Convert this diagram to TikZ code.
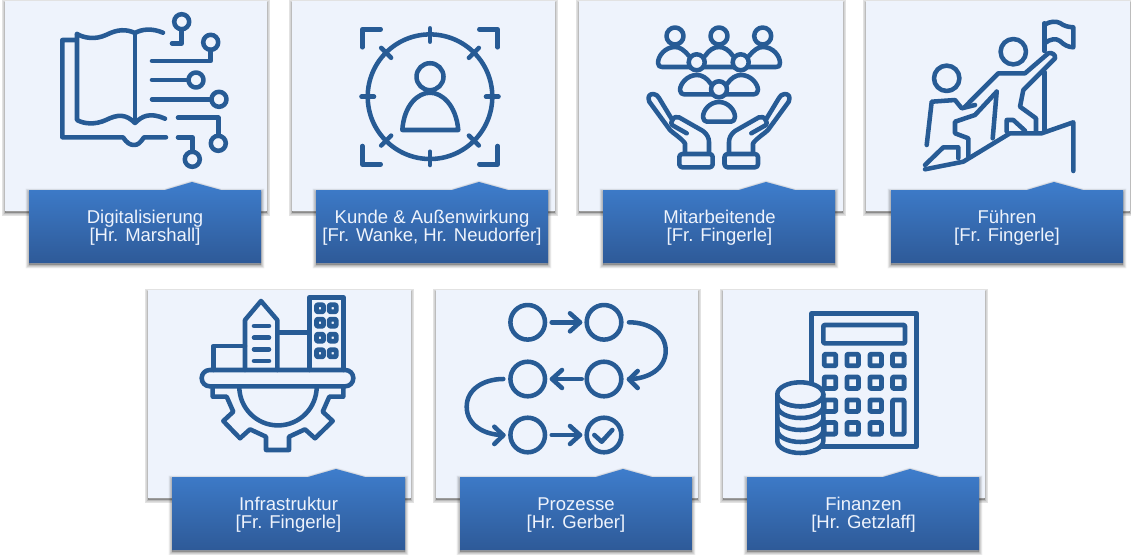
\documentclass[tikz,border=0pt]{standalone}
\usepackage{fontspec}
\setmainfont{Liberation Sans}
\definecolor{cardfill}{RGB}{238,243,252}
\definecolor{iconblue}{RGB}{39,91,149}
\definecolor{bandtop}{RGB}{62,125,204}
\definecolor{bandbottom}{RGB}{46,90,152}
\definecolor{bandink}{RGB}{238,243,252}
\tikzset{every picture/.style={line width=0.75pt}}
\tikzset{softshadow/.style={preaction={draw=black,fill=black,opacity=0.06,line width=1pt,transform canvas={yshift=-1.5pt}},preaction={draw=black,fill=black,opacity=0.06,line width=2pt,transform canvas={yshift=-1.5pt}},preaction={draw=black,fill=black,opacity=0.06,line width=3pt,transform canvas={yshift=-1.5pt}},preaction={draw=black,fill=black,opacity=0.06,line width=4pt,transform canvas={yshift=-1.5pt}},preaction={draw=black,fill=black,opacity=0.06,line width=5pt,transform canvas={yshift=-1.5pt}}}}
\tikzset{cardbox/.style={softshadow,fill=cardfill}}
\tikzset{bandbox/.style={softshadow,top color=bandtop,bottom color=bandbottom}}
\tikzset{bandtext/.style={text=bandink,align=center,inner sep=0.75pt,font=\fontsize{13.9}{13.5}\selectfont}}
\tikzset{iconline/.style={draw=iconblue,line width=3.4pt,line cap=round,line join=round}}
\tikzset{iconfill/.style={iconline,fill=cardfill}}
\tikzset{keyline/.style={iconline,line width=3.6pt,rounded corners=0.75pt}}

\begin{document}
\begin{tikzpicture}[x=0.75pt,y=0.75pt,yscale=-1,xscale=1]
	\useasboundingbox (0,0) rectangle (1131,554);

	% Cards
	\path [cardbox] (5,1) rectangle (267,211);
	\path [cardbox] (292,1) rectangle (555,211);
	\path [cardbox] (579,1) rectangle (843,211);
	\path [cardbox] (866,1) rectangle (1130,211);
	\path [cardbox] (148,290) rectangle (411,498);
	\path [cardbox] (436,290) rectangle (698,498);
	\path [cardbox] (723,290) rectangle (985,498);

	% Bands
	\path [bandbox] (29,190) -- (165,190) -- (192,182) -- (221,190) -- (261,190) -- (261,263) -- (29,263) -- cycle;
	\path [bandbox] (316,190) -- (452,190) -- (479,182) -- (508,190) -- (548,190) -- (548,263) -- (316,263) -- cycle;
	\path [bandbox] (603,190) -- (739,190) -- (766,182) -- (795,190) -- (835,190) -- (835,263) -- (603,263) -- cycle;
	\path [bandbox] (891,190) -- (1027,190) -- (1054,182) -- (1083,190) -- (1123,190) -- (1123,263) -- (891,263) -- cycle;
	\path [bandbox] (172,477) -- (308,477) -- (336,469) -- (365,477) -- (405,477) -- (405,550) -- (172,550) -- cycle;
	\path [bandbox] (460,477) -- (596,477) -- (623,469) -- (652,477) -- (692,477) -- (692,550) -- (460,550) -- cycle;
	\path [bandbox] (747,477) -- (883,477) -- (910,469) -- (939,477) -- (979,477) -- (979,550) -- (747,550) -- cycle;

	% Text Node
	\node (digital) [bandtext] at (145,228) {Digitalisierung\\{[Hr. Marshall]}};
	% Text Node
	\node (kunde) [bandtext] at (432,228) {Kunde \& Außenwirkung\\{[Fr. Wanke, Hr. Neudorfer]}};
	% Text Node
	\node (mitarbeit) [bandtext] at (719.5,228) {Mitarbeitende\\{[Fr. Fingerle]}};
	% Text Node
	\node (fuehren) [bandtext] at (1007,228) {Führen\\{[Fr. Fingerle]}};
	% Text Node
	\node (infra) [bandtext] at (288.5,515) {Infrastruktur\\{[Fr. Fingerle]}};
	% Text Node
	\node (prozess) [bandtext] at (576,515) {Prozesse\\{[Hr. Gerber]}};
	% Text Node
	\node (finanz) [bandtext] at (863.5,515) {Finanzen\\{[Hr. Getzlaff]}};

	% Book
	\draw [iconline] (76,40) -- (62.3,40) -- (62.3,137.3) -- (123,137.3) .. controls (127,143) and (130,145) .. (134,145) .. controls (138,145) and (140,143) .. (144,137.3) -- (166,137.3);
	\draw [iconline] (77,34) -- (77,120) .. controls (84,124) and (95,125) .. (106,120) .. controls (118,114) and (126,114) .. (135,123) .. controls (142,116) and (150,112) .. (165,118.7);
	\draw [iconline] (77,34) .. controls (84,38) and (95,40) .. (106,35) .. controls (118,29) and (126,29) .. (135,33) .. controls (142,29) and (152,28) .. (163,32.7);
	\draw [iconline] (135,33) -- (135,122);
	% Circuit
	\draw [iconline] (181.7,21.7) circle [radius=7.5];
	\draw [iconline] (181.7,29.2) -- (181.7,43.3) -- (172,43.3);
	\draw [iconline] (210.7,42.3) circle [radius=7.5];
	\draw [iconline] (210.7,49.8) -- (210.7,61) -- (152,61);
	\draw [iconline] (196,80) circle [radius=7.5];
	\draw [iconline] (152,80) -- (188.5,80);
	\draw [iconline] (219,99.3) circle [radius=7.5];
	\draw [iconline] (152,99.3) -- (211.5,99.3);
	\draw [iconline] (218.3,143.3) circle [radius=7.5];
	\draw [iconline] (178,117.7) -- (218.3,117.7) -- (218.3,135.8);
	\draw [iconline] (192.3,159.3) circle [radius=7.5];
	\draw [iconline] (178,137.3) -- (192.3,137.3) -- (192.3,151.8);

	% Target ring
	\draw [iconline] (430,96.7) circle [radius=62.3];
	\draw [iconline] (430,28.3) -- (430,41.7);
	\draw [iconline] (430,151.7) -- (430,165);
	\draw [iconline] (361.5,96.7) -- (374,96.7);
	\draw [iconline] (486,96.7) -- (498.5,96.7);
	\draw [iconline] (391.1,57.8) -- (381.2,47.9);
	\draw [iconline] (468.9,57.8) -- (478.8,47.9);
	\draw [iconline] (391.1,135.6) -- (381.2,145.5);
	\draw [iconline] (468.9,135.6) -- (478.8,145.5);
	% Corners
	\draw [iconline] (380.7,29.3) -- (362.3,29.3) -- (362.3,47.3);
	\draw [iconline] (479.3,29.3) -- (497.7,29.3) -- (497.7,47.3);
	\draw [iconline] (362.3,146) -- (362.3,164.3) -- (380.7,164.3);
	\draw [iconline] (497.7,146) -- (497.7,164.3) -- (479.3,164.3);
	% Person
	\draw [iconline] (430,76.7) circle [radius=13.5];
	\draw [iconline] (402.3,130) .. controls (404,105) and (418,92.7) .. (430,92.7) .. controls (442,92.7) and (456,105) .. (458.3,130) -- cycle;

	% Upper row of people
	\draw [iconline] (675,36) circle [radius=8.5];
	\draw [iconline] (719,36) circle [radius=8.5];
	\draw [iconline] (762.7,36) circle [radius=8.5];
	\draw [iconline] (689,56) .. controls (684,50) and (680,47) .. (675,47) .. controls (665,47) and (658,56) .. (658,63) .. controls (658,66) and (660,67) .. (662,67) -- (776,67) .. controls (779,67) and (780,66) .. (780,63) .. controls (780,56) and (773,47) .. (763,47) .. controls (758,47) and (754,50) .. (749,56);
	\draw [iconline] (705,56) .. controls (709,50) and (714,47) .. (719,47) .. controls (724,47) and (729,50) .. (733,56);
	% Middle row of people
	\draw [iconfill] (696.7,62.3) circle [radius=8];
	\draw [iconfill] (740.7,62.3) circle [radius=8];
	\draw [iconline] (711,84) .. controls (707,78) and (702,75) .. (697,75) .. controls (687,75) and (680,84) .. (680,90) .. controls (680,93) and (682,94.3) .. (684,94.3) -- (754,94.3) .. controls (756,94.3) and (758,93) .. (758,90) .. controls (758,84) and (751,75) .. (741,75) .. controls (736,75) and (731,78) .. (727,84);
	% Lower person
	\draw [iconfill] (719,89.3) circle [radius=8];
	\draw [iconline] (719,102) .. controls (710,102) and (703,110) .. (703,117) .. controls (703,120) and (705,121.7) .. (707,121.7) -- (731,121.7) .. controls (733,121.7) and (735,120) .. (735,117) .. controls (735,110) and (728,102) .. (719,102) -- cycle;
	% Hands
	\draw [iconline] (685,153.3) -- (685,143.3) .. controls (680,137) and (674,134) .. (670,130) -- (649.3,101.7) .. controls (647,96) and (650,94) .. (653.3,94) .. controls (656,94) and (658,96) .. (659,98) -- (672.3,120) .. controls (674,117) and (676,116.5) .. (679,117.3) -- (703,131) .. controls (707,134) and (709,138) .. (709,142) -- (709,153.3);
	\draw [iconline] (672.3,120) .. controls (671,122) and (671,124) .. (672,125) -- (686.7,133.3);
	\draw [iconline,rounded corners=2.25pt] (679.3,154) rectangle (712.7,167.3);
	\draw [iconline] (753,153.3) -- (753,143.3) .. controls (758,137) and (764,134) .. (768,130) -- (788.7,101.7) .. controls (791,96) and (788,94) .. (784.7,94) .. controls (782,94) and (780,96) .. (779,98) -- (765.7,120) .. controls (764,117) and (762,116.5) .. (759,117.3) -- (735,131) .. controls (731,134) and (729,138) .. (729,142) -- (729,153.3);
	\draw [iconline] (765.7,120) .. controls (767,122) and (767,124) .. (766,125) -- (751.3,133.3);
	\draw [iconline,rounded corners=2.25pt] (724.5,154) rectangle (758,167.3);

	% Mountain
	\draw [iconline] (925,169.3) -- (963.3,161.7) -- (1010,133.3) -- (1041.7,133.3) -- (1073.3,122.3) -- (1073.3,171);
	% Flag
	\draw [iconline] (1044.3,23.3) -- (1044.3,51);
	\draw [iconline] (1044.3,72) -- (1044.3,131.7);
	\draw [iconline] (1044.3,25) .. controls (1050,21) and (1056,21) .. (1060,23) .. controls (1064,26) and (1068,27) .. (1073.3,27.3) -- (1073.3,47.3) .. controls (1068,47) and (1064,45) .. (1060,41) .. controls (1056,38) and (1050,39) .. (1045,43);
	% Upper climber
	\draw [iconline] (1013.3,51.7) circle [radius=12.7];
	\draw [iconline] (965,106.7) -- (998.3,73.3) -- (1025,73.3) -- (1048.3,53.3) .. controls (1052,52) and (1056,55) .. (1055,58.3) -- (1023.3,90) -- (1020,106.7) -- (1036,118.3) -- (1036,131.7);
	\draw [iconline] (996.7,91.7) -- (975,115) -- (955,121.7) -- (955,133.3) -- (968.3,138.3) -- (968.3,156.7);
	\draw [iconline] (996.7,91.7) -- (992.7,138.3);
	\draw [iconline] (1006.7,131.7) -- (1006.7,120) -- (1013.3,120) -- (1025,130.7);
	% Lower climber
	\draw [iconline] (946.7,78.3) circle [radius=12.7];
	\draw [iconline] (926.7,145) -- (931.7,101.7) -- (955,100) -- (961.7,108.3) -- (975,105);
	\draw [iconline] (925,165) -- (943.3,147.3) -- (958.3,147.3) -- (958.3,158.3);

	% Buildings
	\draw [iconline] (213.3,370) -- (213.3,346) -- (245,346);
	\draw [iconline] (245,370) -- (245,320) -- (261,301) -- (277.3,320) -- (277.3,370);
	\draw [iconline] (254,326) -- (269,326);
	\draw [iconline] (254,337.7) -- (269,337.7);
	\draw [iconline] (254,349.3) -- (269,349.3);
	\draw [iconline] (254,361) -- (269,361);
	\draw [iconline] (277.3,332.7) -- (309.3,332.7);
	\draw [iconline] (309.3,370) -- (309.3,297.3) -- (343.3,297.3) -- (343.3,370);
	% Windows
	\draw [keyline] (316.5,304.8) rectangle (323.5,311.8);
	\draw [keyline] (329.2,304.8) rectangle (336.2,311.8);
	\draw [keyline] (316.5,319.2) rectangle (323.5,326.2);
	\draw [keyline] (329.2,319.2) rectangle (336.2,326.2);
	\draw [keyline] (316.5,334.2) rectangle (323.5,341.2);
	\draw [keyline] (329.2,334.2) rectangle (336.2,341.2);
	\draw [keyline] (316.5,349.8) rectangle (323.5,356.8);
	\draw [keyline] (329.2,349.8) rectangle (336.2,356.8);
	% Platform
	\draw [iconline,rounded corners=6pt] (201.7,370) rectangle (353.3,386.3);
	% Gear
	\draw [iconline] (212.7,386.7) -- (212.7,396.7) -- (226.7,396.7) -- (233.3,411.7) -- (223.3,421) -- (240,438.3) -- (250,429.3) -- (266,436.7) -- (266,450) -- (289,450) -- (289,436.7) -- (305,429.3) -- (315,438.3) -- (332.7,421) -- (322.7,411.7) -- (329.3,396.7) -- (343.3,396.7) -- (343.3,386.7);
	\draw [iconline] (239.3,386.7) arc [start angle=180,end angle=0,radius=38.7];

	% Process steps
	\draw [iconline] (527.7,322.3) circle [radius=17.3];
	\draw [iconline] (604,322.3) circle [radius=17.3];
	\draw [iconline] (527.7,379) circle [radius=17.3];
	\draw [iconline] (604,379) circle [radius=17.3];
	\draw [iconline] (527.7,435) circle [radius=17.3];
	\draw [iconline] (604,435) circle [radius=17.3];
	% Process arrows
	\draw [iconline] (551.7,322.3) -- (580,322.3);
	\draw [iconline] (570,313.3) -- (580,322.3) -- (570,331.3);
	\draw [iconline] (581.7,379) -- (552,379);
	\draw [iconline] (562,370) -- (552,379) -- (562,388);
	\draw [iconline] (551.7,435) -- (580,435);
	\draw [iconline] (570,426) -- (580,435) -- (570,444);
	\draw [iconline] (629,322.3) .. controls (648,322.3) and (665.7,332) .. (665.7,350.7) .. controls (665.7,369) and (648,379) .. (629,379);
	\draw [iconline] (637.7,371) -- (629,379.5) -- (637.7,388);
	\draw [iconline] (503.3,379) .. controls (484,379) and (466.7,389) .. (466.7,406.7) .. controls (466.7,425) and (484,435) .. (503.3,435);
	\draw [iconline] (494.3,426.7) -- (503.3,435.3) -- (494.3,444);
	\draw [iconline] (594.3,435) -- (601.7,441.7) -- (612.3,430);

	% Calculator
	\draw [iconline] (790,395) -- (811.7,395) -- (811.7,313.3) -- (916.7,313.3) -- (916.7,446.7) -- (820,446.7);
	\draw [keyline,line width=3.4pt] (823.3,325) rectangle (905,343.3);
	% Keys
	\draw [keyline] (824.2,354.2) rectangle (835.8,365.8);
	\draw [keyline] (846.9,354.2) rectangle (858.5,365.8);
	\draw [keyline] (869.9,354.2) rectangle (881.5,365.8);
	\draw [keyline] (892.5,354.2) rectangle (904.1,365.8);
	\draw [keyline] (824.2,376.9) rectangle (835.8,388.5);
	\draw [keyline] (846.9,376.9) rectangle (858.5,388.5);
	\draw [keyline] (869.9,376.9) rectangle (881.5,388.5);
	\draw [keyline] (892.5,376.9) rectangle (904.1,388.5);
	\draw [keyline] (824.2,399.9) rectangle (835.8,411.5);
	\draw [keyline] (846.9,399.9) rectangle (858.5,411.5);
	\draw [keyline] (869.9,399.9) rectangle (881.5,411.5);
	\draw [keyline] (892.5,399.9) rectangle (904.1,434.2);
	\draw [keyline] (824.2,422.5) rectangle (835.8,434.1);
	\draw [keyline] (846.9,422.5) rectangle (858.5,434.1);
	\draw [keyline] (869.9,422.5) rectangle (881.5,434.1);
	% Coins
	\draw [iconfill] (777.3,394.3) -- (777.3,441) arc [start angle=180,end angle=0,x radius=23,y radius=12] -- (823.3,394.3) arc [start angle=0,end angle=180,x radius=23,y radius=12] -- cycle;
	\draw [iconfill] (777.3,394.3) arc [start angle=180,end angle=-180,x radius=23,y radius=12] -- cycle;
	\draw [iconline] (777.3,406) arc [start angle=180,end angle=0,x radius=23,y radius=12];
	\draw [iconline] (777.3,418) arc [start angle=180,end angle=0,x radius=23,y radius=12];
	\draw [iconline] (777.3,430) arc [start angle=180,end angle=0,x radius=23,y radius=12];
\end{tikzpicture}
\end{document}
